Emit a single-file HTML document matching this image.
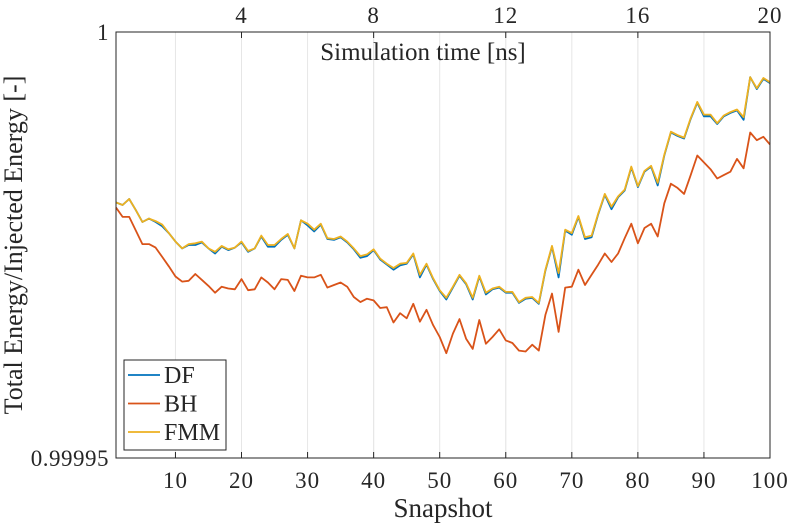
<!DOCTYPE html>
<html><head><meta charset="utf-8"><style>
html,body{margin:0;padding:0;background:#fff;}
svg{display:block;font-family:"Liberation Serif",serif;}
</style></head><body>
<svg id="chart" width="788" height="523" viewBox="0 0 788 523">
<rect width="788" height="523" fill="#fff"/>
<g id="grid"></g>
<g id="series"></g>
<g id="axes"></g>
</svg>
<script>
const snapshots = Array.from({length:100},(_,i)=>i+1);
// deficit from 1, in units of 1e-6 (value = 1 - d*1e-6)
const fmm = [20.0,20.3,19.6,20.9,22.3,21.9,22.2,22.6,23.6,24.6,25.4,24.9,24.8,24.6,25.4,25.8,25.1,25.5,25.3,24.6,25.7,25.4,23.9,25.0,25.0,24.3,23.7,25.4,22.1,22.5,23.2,22.5,24.2,24.3,24.0,24.6,25.4,26.3,26.1,25.5,26.6,27.2,27.7,27.2,27.1,26.0,28.5,27.2,28.9,30.3,31.2,29.9,28.5,29.5,31.2,28.6,30.6,30.1,29.9,30.5,30.5,31.7,31.2,31.1,31.8,27.9,25.1,28.3,23.2,23.6,21.6,24.1,23.9,21.3,19.0,20.5,19.3,18.5,15.8,18.1,16.3,15.7,17.7,14.4,11.7,12.1,12.4,10.1,8.2,9.7,9.7,10.7,9.8,9.4,9.1,10.0,5.3,6.6,5.4,5.9];
const df = [20.0,20.3,19.6,20.9,22.3,21.9,22.3,22.8,23.6,24.6,25.4,25.0,25.0,24.7,25.4,26.0,25.2,25.6,25.3,24.7,25.8,25.4,24.0,25.2,25.2,24.4,23.8,25.4,22.1,22.7,23.4,22.6,24.3,24.4,24.1,24.7,25.5,26.5,26.3,25.6,26.7,27.3,27.9,27.4,27.2,26.1,28.8,27.3,29.0,30.4,31.4,30.0,28.6,29.6,31.4,28.7,30.8,30.2,30.0,30.6,30.6,31.8,31.3,31.2,31.9,28.0,25.2,28.8,23.3,23.8,21.7,24.3,24.1,21.4,19.1,20.8,19.4,18.6,15.9,18.2,16.4,15.8,18.0,14.5,11.8,12.2,12.5,10.2,8.3,9.9,9.9,10.8,9.9,9.5,9.2,10.3,5.3,6.7,5.5,6.0];
const bh = [20.6,21.7,21.7,23.3,24.9,24.9,25.3,26.4,27.5,28.7,29.3,29.2,28.4,29.1,29.8,30.6,29.9,30.1,30.2,29.0,30.3,30.2,28.8,29.4,30.2,29.0,29.1,30.4,28.6,28.8,28.8,28.5,30.0,29.7,29.4,29.9,31.1,31.7,31.3,31.5,32.4,32.3,34.1,33.0,33.6,31.9,34.0,32.6,34.4,35.8,37.7,35.4,33.7,36.0,37.2,33.8,36.6,35.8,34.9,36.2,36.5,37.4,37.5,36.7,37.4,33.2,30.7,35.2,30.0,29.9,27.9,29.7,28.5,27.3,26.0,27.0,26.0,24.2,22.5,24.8,23.0,22.5,24.0,20.1,17.8,18.3,19.0,16.8,14.5,15.3,16.1,17.2,16.8,16.4,14.9,16.0,11.8,12.7,12.3,13.2];
const xTicks = [10,20,30,40,50,60,70,80,90,100];
const topTicks = [4,8,12,16,20];
const yTickLabels = ["1","0.99995"];
const yTickDeficits = [0,50];

const L=116,R=770,T=32,B=458;
const X=v=>L+(v-1)/(100-1)*(R-L);
const Y=d=>T+d/50*(B-T);
const NS="http://www.w3.org/2000/svg";
function mk(parent,tag,attrs,text){const e=document.createElementNS(NS,tag);for(const k in attrs)e.setAttribute(k,attrs[k]);if(text!==undefined)e.textContent=text;parent.appendChild(e);return e;}
const grid=document.getElementById('grid'),ser=document.getElementById('series'),ax=document.getElementById('axes');

xTicks.forEach(t=>{
  const g=mk(grid,'line',{x1:X(t),x2:X(t),y1:T,y2:B,stroke:'#e6e6e6','stroke-width':1});
  
  
});
topTicks.forEach(t=>{
  const g=mk(grid,'line',{x1:X(t*5),x2:X(t*5),y1:T,y2:B,stroke:'#e6e6e6','stroke-width':1});
  
  
});

const series=[['df',df,'#0072BD'],['bh',bh,'#D95319'],['fmm',fmm,'#EDB120']];
series.forEach(([n,arr,c])=>{
  const p=mk(ser,'polyline',{points:arr.map((d,i)=>X(snapshots[i]).toFixed(1)+','+Y(d).toFixed(1)).join(' '),fill:'none',stroke:c,'stroke-width':1.8,'stroke-linejoin':'round'});
  
  
});

const box=mk(ax,'rect',{x:L,y:T,width:R-L,height:B-T,fill:'none',stroke:'#262626','stroke-width':1});



xTicks.forEach(t=>{
  mk(ax,'line',{x1:X(t),x2:X(t),y1:B,y2:B-6,stroke:'#262626'});
  const tx=mk(ax,'text',{x:X(t),y:B+30,'text-anchor':'middle','font-size':23,'letter-spacing':1,fill:'#262626'},String(t));
  
  
});
topTicks.forEach(t=>{
  mk(ax,'line',{x1:X(t*5),x2:X(t*5),y1:T,y2:T+6,stroke:'#262626'});
  const tx=mk(ax,'text',{x:X(t*5),y:T-9,'text-anchor':'middle','font-size':23,'letter-spacing':1,fill:'#262626'},String(t));
  
  
});
yTickLabels.forEach((lab,i)=>{
  const tx=mk(ax,'text',{x:L-7,y:Y(yTickDeficits[i])+8,'text-anchor':'end','font-size':23,'letter-spacing':0.5,fill:'#262626'},lab);
  
  
});

const xt=mk(ax,'text',{x:443,y:517,'text-anchor':'middle','font-size':27,fill:'#262626'},'Snapshot');


const tt=mk(ax,'text',{x:423,y:60,'text-anchor':'middle','font-size':25,fill:'#262626'},'Simulation time [ns]');


const yt=mk(ax,'text',{x:0,y:0,'text-anchor':'middle','font-size':26,fill:'#262626',transform:'translate(22,245) rotate(-90)'},'Total Energy/Injected Energy [-]');



const leg=mk(ax,'g',{});


mk(leg,'rect',{x:124,y:360,width:102,height:90,fill:'#fff',stroke:'#262626','stroke-width':1});
const labels=['DF','BH','FMM'],cols=['#0072BD','#D95319','#EDB120'];
labels.forEach((lab,i)=>{
  const y=375+i*28.5;
  const ge=mk(leg,'g',{});
  
  
  mk(ge,'line',{x1:128,x2:160,y1:y,y2:y,stroke:cols[i],'stroke-width':1.8});
  mk(ge,'text',{x:164,y:y+8,'font-size':24,fill:'#262626'},lab);
});
</script>
</body></html>
